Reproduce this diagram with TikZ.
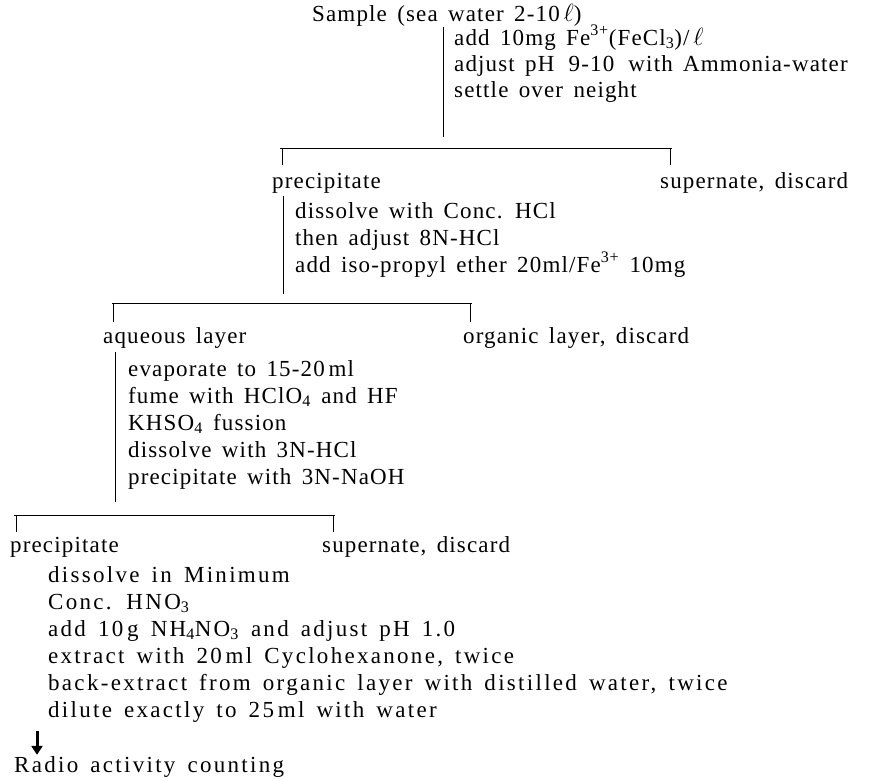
\documentclass[tikz,border=0pt]{standalone}
\usepackage{fontspec}
\setmainfont{Liberation Serif}[LetterSpace=5,WordSpace=1.5]
\newfontfamily\widerm{Liberation Serif}[LetterSpace=10,WordSpace=1.5]
\usetikzlibrary{arrows.meta}
\begin{document}
\begin{tikzpicture}[x=1pt,y=-1pt,
  txt/.style={anchor=base west,inner sep=0pt,font=\fontsize{23}{27}\selectfont},
  wtxt/.style={txt,font=\widerm\fontsize{23}{27}\selectfont},
  ln/.style={line width=0.8pt,black},
  arr/.style={line width=3pt,-{Triangle[length=9pt,width=11pt]}}]
\useasboundingbox (0,0) rectangle (870,780);
% level 0
\node[txt] (sample) at (312,21) {Sample (sea water 2-10\,$\ell$)};
\coordinate (v1t) at (443,27);
\coordinate (v1b) at (443,137);
\draw[ln] (v1t) -- (v1b);
\node[txt] (t1a) at (454,45) {add 10mg Fe\textsuperscript{3+}(FeCl\textsubscript{3})/\,$\ell$};
\node[txt] (t1b) at (454,71) {adjust pH\, 9-10\, with Ammonia-water};
\node[txt] (t1c) at (454,97) {settle over neight};
% split 1
\coordinate (h1l) at (280,148);
\coordinate (h1r) at (672,148);
\coordinate (h1lt) at (282,165);
\coordinate (h1rt) at (670,165);
\draw[ln] (h1l) -- (h1r);
\draw[ln] (h1lt |- h1l) -- (h1lt);
\draw[ln] (h1rt |- h1r) -- (h1rt);
\node[txt] (p1) at (272,188) {precipitate};
\node[txt] (s1) at (660,188) {supernate, discard};
\coordinate (v2t) at (283,196);
\coordinate (v2b) at (283,294);
\draw[ln] (v2t) -- (v2b);
\node[txt] (t2a) at (295,218) {dissolve with Conc. HCl};
\node[txt] (t2b) at (295,245) {then adjust 8N-HCl};
\node[txt] (t2c) at (295,272) {add iso-propyl ether 20ml/Fe\textsuperscript{3+} 10mg};
% split 2
\coordinate (h2l) at (112,303);
\coordinate (h2r) at (472,303);
\coordinate (h2lt) at (113,322);
\coordinate (h2rt) at (470,322);
\draw[ln] (h2l) -- (h2r);
\draw[ln] (h2lt |- h2l) -- (h2lt);
\draw[ln] (h2rt |- h2r) -- (h2rt);
\node[txt] (aq) at (103,343) {aqueous layer};
\node[txt] (org) at (463,343) {organic layer, discard};
\coordinate (v3t) at (115,352);
\coordinate (v3b) at (115,502);
\draw[ln] (v3t) -- (v3b);
\node[txt] (t3a) at (128,376) {evaporate to 15-20\,ml};
\node[txt] (t3b) at (128,403) {fume with HClO\textsubscript{4} and HF};
\node[txt] (t3c) at (128,430) {KHSO\textsubscript{4} fussion};
\node[txt] (t3d) at (128,457) {dissolve with 3N-HCl};
\node[txt] (t3e) at (128,484) {precipitate with 3N-NaOH};
% split 3
\coordinate (h3l) at (14,515);
\coordinate (h3r) at (335,515);
\coordinate (h3lt) at (16,532);
\coordinate (h3rt) at (333,532);
\draw[ln] (h3l) -- (h3r);
\draw[ln] (h3lt |- h3l) -- (h3lt);
\draw[ln] (h3rt |- h3r) -- (h3rt);
\node[txt] (p3) at (10,552) {precipitate};
\node[txt] (s3) at (322,552) {supernate, discard};
\node[wtxt] (t4a) at (48,582) {dissolve in Minimum};
\node[wtxt] (t4b) at (48,609) {Conc. HNO\textsubscript{3}};
\node[wtxt] (t4c) at (48,636) {add 10\,g NH\textsubscript{4}NO\textsubscript{3} and adjust pH 1.0};
\node[wtxt] (t4d) at (48,663) {extract with 20\,ml Cyclohexanone, twice};
\node[wtxt] (t4e) at (48,690) {back-extract from organic layer with distilled water, twice};
\node[wtxt] (t4f) at (48,717) {dilute exactly to 25\,ml with water};
\node[wtxt] (radio) at (14,772) {Radio activity counting};
\coordinate (at) at (37,731);
\draw[arr] (at) -- ([yshift=1pt]radio.north west -| at);
\end{tikzpicture}
\end{document}
